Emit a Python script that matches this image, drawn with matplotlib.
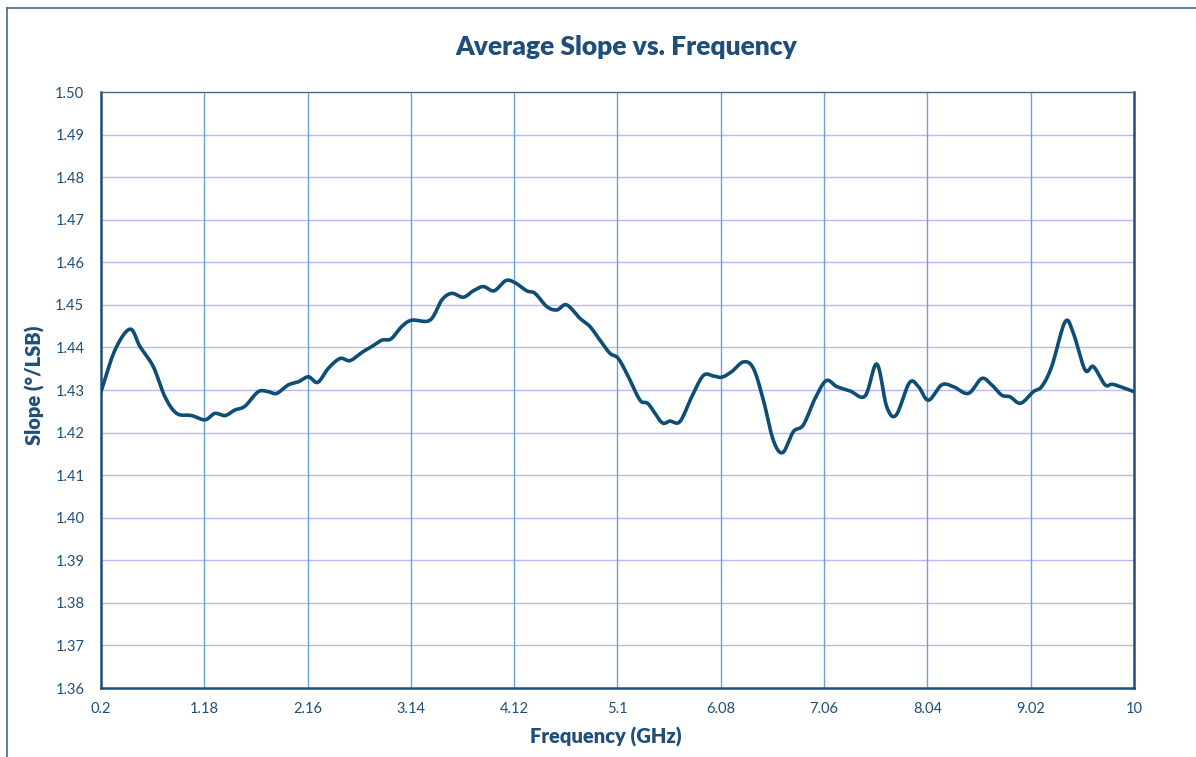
import numpy as np
import matplotlib
matplotlib.use("Agg")
import matplotlib.pyplot as plt
from matplotlib.lines import Line2D

freq = [0.2, 0.333, 0.475, 0.57, 0.696, 0.807, 0.918, 1.06, 1.187, 1.28, 1.377, 1.47, 1.566,
        1.692, 1.787, 1.867, 1.977, 2.07, 2.167, 2.256, 2.357, 2.468, 2.562, 2.673, 2.768,
        2.863, 2.951, 3.053, 3.148, 3.321, 3.432, 3.527, 3.637, 3.732, 3.827, 3.929, 4.04,
        4.128, 4.239, 4.318, 4.429, 4.524, 4.618, 4.745, 4.839, 4.934, 5.029, 5.108, 5.203,
        5.314, 5.393, 5.519, 5.598, 5.693, 5.804, 5.914, 6.009, 6.088, 6.183, 6.294, 6.389,
        6.484, 6.578, 6.667, 6.768, 6.863, 6.974, 7.08, 7.18, 7.306, 7.449, 7.56, 7.654,
        7.743, 7.869, 7.955, 8.05, 8.176, 8.286, 8.429, 8.555, 8.65, 8.745, 8.824, 8.925,
        9.045, 9.124, 9.219, 9.346, 9.425, 9.536, 9.615, 9.726, 9.805, 10.0]
slope = [1.4296, 1.4394, 1.4443, 1.4402, 1.4355, 1.4284, 1.4245, 1.4240, 1.4230, 1.4245, 1.4240,
         1.4253, 1.4262, 1.4296, 1.4296, 1.4292, 1.4312, 1.4319, 1.4331, 1.4318, 1.4351, 1.4374,
         1.4369, 1.4388, 1.4402, 1.4417, 1.4420, 1.4449, 1.4464, 1.4464, 1.4511, 1.4527, 1.4518,
         1.4533, 1.4543, 1.4533, 1.4557, 1.4552, 1.4533, 1.4527, 1.4496, 1.4488, 1.4500, 1.4468,
         1.4449, 1.4417, 1.4386, 1.4374, 1.4331, 1.4276, 1.4267, 1.4224, 1.4227, 1.4226, 1.4284,
         1.4334, 1.4333, 1.4330, 1.4343, 1.4366, 1.4351, 1.4276, 1.4182, 1.4153, 1.4202, 1.4218,
         1.4280, 1.4322, 1.4308, 1.4298, 1.4286, 1.4361, 1.4261, 1.4241, 1.4317, 1.4308, 1.4276,
         1.4312, 1.4308, 1.4292, 1.4327, 1.4312, 1.4288, 1.4284, 1.4269, 1.4296, 1.4308, 1.4355,
         1.4460, 1.4433, 1.4347, 1.4355, 1.4312, 1.4313, 1.4296]

x_ticks = [0.2, 1.18, 2.16, 3.14, 4.12, 5.1, 6.08, 7.06, 8.04, 9.02, 10]
x_tick_labels = ["0.2", "1.18", "2.16", "3.14", "4.12", "5.1", "6.08", "7.06", "8.04", "9.02", "10"]
y_ticks = [1.36, 1.37, 1.38, 1.39, 1.40, 1.41, 1.42, 1.43, 1.44, 1.45, 1.46, 1.47, 1.48, 1.49, 1.50]

title = "Average Slope vs. Frequency"
xlabel = "Frequency (GHz)"
ylabel = "Slope (°/LSB)"


def smooth(x, y, n=12):
    # Catmull-Rom style smoothing for drawing (like a smoothed line chart)
    x = np.asarray(x, float); y = np.asarray(y, float)
    px = np.concatenate([[2 * x[0] - x[1]], x, [2 * x[-1] - x[-2]]])
    py = np.concatenate([[2 * y[0] - y[1]], y, [2 * y[-1] - y[-2]]])
    xs, ys = [], []
    t = np.linspace(0, 1, n, endpoint=False)
    for i in range(1, len(px) - 2):
        p0, p1, p2, p3 = px[i - 1], px[i], px[i + 1], px[i + 2]
        q0, q1, q2, q3 = py[i - 1], py[i], py[i + 1], py[i + 2]
        t2, t3 = t * t, t * t * t
        xs.append(0.5 * (2 * p1 + (-p0 + p2) * t + (2 * p0 - 5 * p1 + 4 * p2 - p3) * t2 + (-p0 + 3 * p1 - 3 * p2 + p3) * t3))
        ys.append(0.5 * (2 * q1 + (-q0 + q2) * t + (2 * q0 - 5 * q1 + 4 * q2 - q3) * t2 + (-q0 + 3 * q1 - 3 * q2 + q3) * t3))
    xs.append([x[-1]]); ys.append([y[-1]])
    return np.concatenate(xs), np.concatenate(ys)


plt.rcParams['font.family'] = ['Lato', 'DejaVu Sans']
dark = "#1F4E79"
line_c = "#0E4D76"

fig = plt.figure(figsize=(11.96, 7.57), dpi=100)
ax = fig.add_axes([101 / 1196, 1 - 688 / 757, (1134 - 101) / 1196, (688 - 92) / 757])

sx, sy = smooth(freq, slope)
ax.plot(sx, sy, color=line_c, lw=2.6, solid_capstyle='round', zorder=3)

ax.set_xlim(0.2, 10)
ax.set_ylim(1.36, 1.50)
ax.set_xticks(x_ticks)
ax.set_xticklabels(x_tick_labels)
ax.set_yticks(y_ticks)
ax.set_yticklabels([f"{v:.2f}" for v in y_ticks])
ax.tick_params(axis='both', length=0, labelsize=10.5, labelcolor=dark)
ax.tick_params(axis='x', pad=10)
ax.tick_params(axis='y', pad=12)

for v in y_ticks[1:-1]:
    ax.axhline(v, color="#B8B8F8", lw=1.0, zorder=1)
for v in x_ticks[1:-1]:
    ax.axvline(v, color="#6F9EE0", lw=1.0, zorder=1)

for s in ['left', 'bottom', 'right']:
    ax.spines[s].set_color(dark)
    ax.spines[s].set_linewidth(1.8)
ax.spines['top'].set_color("#4A6785")
ax.spines['top'].set_linewidth(1.0)

fig.text(626 / 1196, 1 - 47 / 757, title, ha='center', va='center', fontsize=19, fontweight='heavy', color=dark)
fig.text(606 / 1196, 1 - 737 / 757, xlabel, ha='center', va='center', fontsize=14.5, fontweight='heavy', color=dark)
fig.text(35 / 1196, 1 - 385 / 757, ylabel, ha='center', va='center', rotation=90, fontsize=14.5, fontweight='heavy', color=dark)

fig.add_artist(Line2D([7 / 1196, 7 / 1196], [0, 1 - 8 / 757], transform=fig.transFigure, color="#4A6785", lw=1.2))
fig.add_artist(Line2D([7 / 1196, 1], [1 - 8 / 757, 1 - 8 / 757], transform=fig.transFigure, color="#4A6785", lw=1.2))

fig.savefig("out.png", dpi=100)
